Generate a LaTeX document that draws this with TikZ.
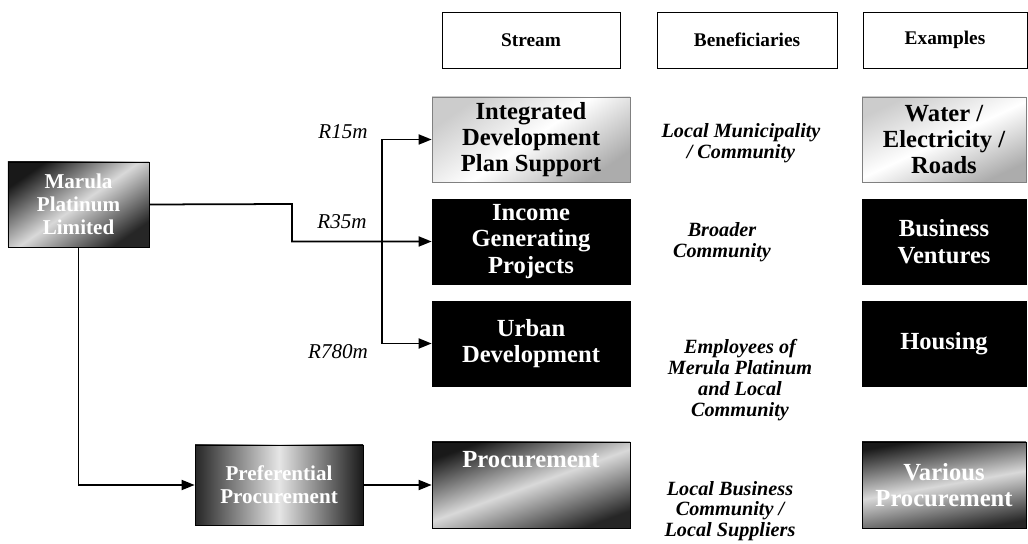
\documentclass[tikz,border=0pt]{standalone}
\usepackage{fontspec}
\setmainfont{Liberation Serif}
\usetikzlibrary{arrows.meta}
\begin{document}
\begin{tikzpicture}[x=0.2mm,y=-0.2mm,
  headbox/.style={draw,thin,minimum height=11.2mm,font=\fontsize{11}{12}\selectfont\bfseries},
  box/.style={minimum height=17mm,align=center,inner sep=1pt,font=\fontsize{14}{15}\selectfont\bfseries},
  darkbox/.style={box,draw=black,fill=black,text=white},
  lightbox/.style={box,draw=black!50,top color=gray!40,bottom color=gray!65,middle color=white,shading angle=35},
  mixbox/.style={box,draw=black,top color=black!90,bottom color=black!85,middle color=gray!30,shading angle=35,text=white},
  benef/.style={align=center,font=\fontsize{11.5}{11.8}\selectfont\bfseries\itshape},
  amount/.style={font=\fontsize{12}{13}\selectfont\itshape},
  conn/.style={line width=1pt,-{Triangle[length=2.6mm,width=2mm]}}]
  \useasboundingbox (0,0) rectangle (1028,544);
  % column headers
  \node[headbox,minimum width=35.6mm] (hstr) at (531,40) {Stream};
  \node[headbox,minimum width=36mm] (hben) at (747,40) {Beneficiaries};
  \node[headbox,minimum width=32.8mm] (hex) at (945,40) {Examples};
  % company
  \node[mixbox,minimum width=28.2mm,font=\fontsize{12}{13}\selectfont\bfseries] (mpl) at (78.5,204.5) {Marula\\Platinum\\Limited};
  % streams
  \node[lightbox,minimum width=39.6mm] (idp) at (531,139.5) {Integrated\\Development\\Plan Support};
  \node[darkbox,minimum width=39.6mm] (igp) at (531,241.5) {Income\\Generating\\Projects};
  \node[darkbox,minimum width=39.6mm] (urb) at (531,343.5) {Urban\\Development};
  \node[mixbox,minimum width=39.6mm,minimum height=17.2mm,shading angle=20] (prc) at (531,485) {Procurement\\[5mm]};
  \node[mixbox,minimum width=33.6mm,minimum height=16mm,left color=black!85,right color=black!90,middle color=gray!20,font=\fontsize{12}{13}\selectfont\bfseries] (prf) at (279,485) {Preferential\\Procurement};
  % beneficiaries
  \node[benef] (bena) at (741,143) {Local Municipality\\/ Community};
  \node[benef] (benb) at (722,242) {Broader\\Community};
  \node[benef] (benc) at (740,380) {Employees of\\Merula Platinum\\and Local\\Community};
  \node[benef] (bend) at (730,511) {Local Business\\Community /\\Local Suppliers};
  % examples
  \node[lightbox,minimum width=32.8mm,shading angle=25] (wat) at (944,139.5) {Water /\\Electricity /\\Roads};
  \node[darkbox,minimum width=32.8mm] (bus) at (944,241.5) {Business\\Ventures};
  \node[darkbox,minimum width=32.8mm] (hou) at (944,343.5) {Housing};
  \node[mixbox,minimum width=32.8mm,minimum height=17.2mm,shading angle=10] (var) at (944,485) {Various\\Procurement};
  % amounts
  \node[amount] (ama) at (343,132) {R15m};
  \node[amount] (amb) at (342,222) {R35m};
  \node[amount] (amc) at (338,352) {R780m};
  % connectors
  \coordinate (split) at (382,241.5);
  \draw[conn] (mpl.east) -- (292,204) |- (igp.west);
  \draw[conn] (split) |- (idp.west);
  \draw[conn] (split) |- (urb.west);
  \draw[conn] (mpl.south) |- (prf.west);
  \draw[conn] (prf) -- (prc);
\end{tikzpicture}
\end{document}
